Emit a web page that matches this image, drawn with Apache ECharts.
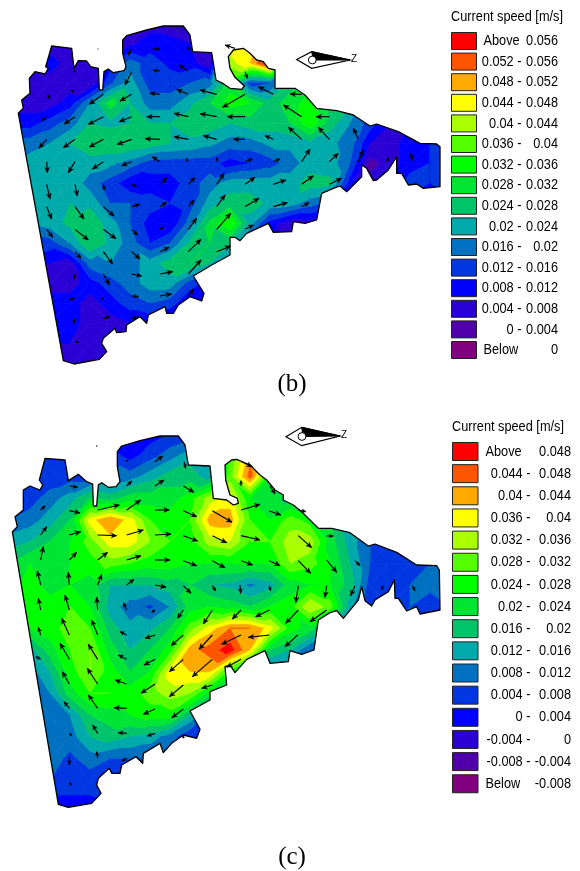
<!DOCTYPE html>
<html><head><meta charset="utf-8">
<style>html,body{margin:0;padding:0;background:#fff}#c{width:580px;height:871px}</style>
<script src="https://cdn.jsdelivr.net/npm/echarts@6/dist/echarts.min.js"></script></head>
<body><div id="c"></div>
<script>
// Map units: plan coordinates. Speeds in mm/s.
var meshX=[30,90,150,210,270,330,390,450,510,570,630,690,750,810,870,930,990,1050,1110,1170,1230,1290,1350];
var meshYB=[70,130,190,250,310,370,430,490,550,610,670,730,790,850,910,970,1030,1100];
var meshYC=[70,135,200,265,330,395,460,525,590,655,720,785,850,915,980,1045,1110,1200];
var speedB=[
[6,6,6,6,6,6,6,6,4,4,6,46,47,50,30,30,30,30,10,10,10,10,10],
[6,6,6,6,6,6,7,10,10,8,5,46,47,50,30,30,30,30,10,10,10,10,10],
[6,6,10,6,4,10,18,14,11,10,4,42,48,60,30,30,30,30,10,10,10,10,10],
[6,6,6,6,4,15,22,14,14,16,18,30,14,16,26,30,26,26,10,10,10,10,10],
[6,6,6,10,20,30,24,18,18,23,28,34,32,26,30,34,28,25,10,10,10,10,10],
[10,10,14,18,24,23,24,24,24,26,26,24,26,26,28,35,26,20,14,8,8,10,10],
[18,18,20,24,27,27,27,26,24,23,21,18,18,21,21,23,21,18,8,6,10,12,12],
[20,22,23,23,22,21,18,14,14,14,14,10,12,14,18,22,22,16,2,6,10,12,14],
[22,22,23,23,18,14,9,10,10,14,18,22,22,22,22,26,25,10,6,8,14,12,14],
[22,22,23,24,23,16,16,14,12,14,22,26,26,23,22,18,14,6,6,6,10,10,10],
[20,20,22,25,27,22,16,10,8,18,29,36,22,10,5,6,6,6,6,6,6,6,6],
[12,12,14,20,28,23,18,12,16,25,28,24,14,8,6,6,6,6,6,6,6,6,6],
[10,10,8,6,18,20,18,22,26,28,24,16,8,6,6,6,6,6,6,6,6,6,6],
[6,6,6,6,10,14,18,22,22,14,10,8,6,6,6,6,6,6,6,6,6,6,6],
[10,10,10,10,6,10,14,16,14,8,6,6,6,6,6,6,6,6,6,6,6,6,6],
[10,10,10,10,6,6,8,8,6,4,6,6,6,6,6,6,6,6,6,6,6,6,6],
[8,8,8,8,6,6,6,6,6,6,6,6,6,6,6,6,6,6,6,6,6,6,6],
[6,6,6,6,3,6,6,6,6,6,6,6,6,6,6,6,6,6,6,6,6,6,6]];
var speedC=[
[2,2,2,2,2,2,2,2,4,6,8,28,40,30,22,22,22,22,10,10,10,10,10],
[5,5,5,5,5,6,2,6,10,14,14,28,42,30,22,22,22,22,10,10,10,10,10],
[5,5,5,6,6,8,10,14,18,18,14,30,46,24,22,22,22,22,10,10,10,10,10],
[6,6,10,14,20,18,22,22,22,26,34,38,24,22,18,18,18,18,10,10,10,10,10],
[8,10,14,20,38,44,38,28,26,28,42,42,28,24,30,26,20,14,10,8,8,8,8],
[14,16,20,24,30,38,38,32,28,26,34,36,28,28,34,34,22,14,8,6,6,8,8],
[20,24,22,24,26,30,28,26,26,24,24,24,24,24,32,30,24,16,8,6,6,8,8],
[22,26,22,24,22,16,16,16,18,20,16,15,11,14,22,24,24,18,6,5,8,9,9],
[24,24,26,28,24,14,10,7,12,22,24,22,20,24,26,36,30,14,6,6,8,6,8],
[24,24,26,30,28,18,13,15,20,30,38,44,44,38,26,22,14,8,8,8,8,8,8],
[14,14,22,28,32,22,16,20,26,42,46,50,40,20,16,8,8,8,8,8,8,8,8],
[10,10,16,26,32,26,20,24,38,40,40,26,16,8,8,8,8,8,8,8,8,8,8],
[10,10,12,22,28,28,26,30,34,32,22,12,8,8,8,8,8,8,8,8,8,8,8],
[10,10,10,12,20,22,24,26,26,16,6,6,6,6,6,6,6,6,6,6,6,6,6],
[10,10,10,10,16,18,16,14,10,4,4,4,4,4,4,4,4,4,4,4,4,4,4],
[10,10,10,7,10,8,8,8,8,8,8,8,8,8,8,8,8,8,8,8,8,8,8],
[8,8,8,6,6,6,6,6,6,6,6,6,6,6,6,6,6,6,6,6,6,6,6],
[2,2,2,2,2,3,4,4,4,4,4,4,4,4,4,4,4,4,4,4,4,4,4]];
var shoreB=[[55,340],[70,325],[65,300],[90,280],[88,235],[105,215],[135,222],[145,205],[137,200],[155,138],[215,145],[222,205],[235,182],[260,183],[272,200],[295,205],[298,270],[308,270],[312,215],[325,207],[340,218],[372,212],[378,200],[368,160],[368,120],[380,107],[440,90],[490,78],[550,78],[570,105],[578,155],[635,158],[648,240],[668,250],[690,265],[725,268],[733,258],[705,232],[690,205],[685,170],[700,150],[730,145],[750,160],[770,180],[790,185],[805,205],[825,210],[825,265],[885,265],[915,285],[950,325],[1010,332],[1060,345],[1110,378],[1130,372],[1195,395],[1260,430],[1310,432],[1320,440],[1320,560],[1270,565],[1250,552],[1225,555],[1205,520],[1190,520],[1190,470],[1165,510],[1130,540],[1120,542],[1100,505],[1085,495],[1085,530],[1040,575],[1020,558],[1000,565],[965,580],[950,660],[915,670],[880,665],[875,695],[820,697],[805,670],[740,700],[720,722],[705,712],[690,712],[690,765],[635,795],[580,828],[612,880],[605,903],[570,890],[535,915],[520,940],[500,940],[495,920],[445,945],[440,970],[420,950],[380,975],[378,995],[350,998],[345,985],[310,1015],[305,1030],[320,1055],[298,1078],[222,1092],[190,1082]];
var shoreC=[[37,365],[52,350],[45,320],[70,300],[70,240],[90,228],[120,240],[128,225],[118,210],[135,145],[195,150],[205,212],[235,193],[260,215],[278,222],[280,288],[290,288],[295,225],[305,218],[325,232],[348,230],[360,215],[352,170],[352,125],[365,108],[420,92],[480,78],[535,78],[555,105],[565,165],[630,168],[640,265],[680,270],[700,285],[715,280],[712,265],[690,255],[677,210],[675,165],[695,150],[710,148],[750,165],[780,195],[800,210],[825,240],[850,255],[850,270],[880,285],[905,305],[955,355],[995,355],[1050,368],[1105,408],[1125,402],[1190,427],[1250,465],[1310,467],[1318,480],[1320,600],[1260,612],[1250,590],[1220,603],[1195,565],[1185,565],[1183,510],[1165,545],[1125,570],[1115,588],[1095,572],[1085,530],[1075,570],[1030,625],[1010,602],[990,608],[955,630],[942,720],[905,733],[870,722],[865,755],[810,760],[795,722],[740,748],[705,788],[690,765],[675,770],[680,825],[630,845],[630,870],[570,903],[600,958],[590,985],[550,975],[515,1000],[490,1028],[480,1000],[430,1030],[428,1060],[408,1040],[365,1065],[360,1090],[335,1090],[328,1075],[295,1105],[290,1125],[303,1150],[275,1180],[205,1192],[175,1183]];
// Current vectors: tail x, tail y, head x, head y
var vectorsB=[[393,148,385,165],[458,145,480,148],[570,148,562,142],[705,145,675,135],[735,215,742,235],
[395,215,375,255],[480,213,460,211],[563,213,537,195],[220,212,228,216],
[310,283,268,313],[395,283,360,303],[480,283,450,280],[563,282,530,268],[650,283,600,270],[735,283,668,322],[820,283,775,260],[905,283,870,282],[142,283,150,296],[220,275,213,271],
[140,350,125,362],[225,350,192,372],[310,350,265,373],[395,350,358,365],[480,350,440,350],[565,350,522,340],[650,350,600,341],[735,350,682,350],[905,350,850,315],[988,350,948,350],
[140,418,117,445],[225,418,190,443],[310,418,268,441],[395,418,352,433],[480,418,435,416],[565,418,522,410],[650,418,610,407],[735,418,700,418],[820,418,795,407],[905,418,865,382],[988,418,955,382],[1075,418,1060,385],
[140,485,142,518],[225,485,205,518],[310,485,277,507],[395,485,365,497],[480,485,457,470],[562,485,560,475],[650,485,652,472],[735,485,757,477],[820,485,840,477],[905,485,930,447],[988,485,1015,460],[1075,485,1090,450],[1160,485,1165,472],[1240,485,1232,460],
[225,553,232,588],[140,553,150,597],[310,553,313,570],[395,553,410,560],[480,553,500,533],[565,553,585,533],[650,553,672,520],[735,553,765,532],[820,553,858,540],[905,553,940,527],[988,553,1025,535],
[140,620,155,657],[225,620,252,657],[310,620,342,648],[395,620,420,613],[480,620,500,607],[565,620,582,600],[650,620,675,585],[735,620,777,595],[820,620,862,608],[905,620,927,608],
[140,688,158,712],[225,688,265,720],[310,688,348,716],[395,688,412,705],[480,688,490,682],[565,688,590,655],[650,688,692,640],[735,688,760,675],
[225,755,243,775],[310,755,338,792],[395,755,420,777],[480,755,507,742],[565,755,603,718],[650,755,692,738],
[225,822,222,838],[310,822,328,855],[395,822,425,828],[480,822,518,815],[565,822,603,780],
[225,893,208,900],[310,893,305,900],[395,888,415,890],[480,888,515,882],[565,888,580,868],
[225,955,220,972],[310,955,328,950],[395,955,410,950],[225,1025,235,1027]];
var vectorsC=[[380,153,384,150],[465,155,488,138],[552,155,557,175],[725,155,757,170],
[210,228,232,232],[380,228,395,213],[465,228,492,210],[550,228,582,247],[723,228,723,212],[810,228,825,252],
[122,300,135,288],[208,302,240,309],[293,300,358,285],[380,300,422,270],[465,300,508,300],[550,302,590,320],[637,302,696,337],[723,300,780,283],[808,303,843,315],[895,300,918,305],
[122,375,140,350],[208,375,242,365],[293,375,350,377],[380,375,430,360],[465,375,513,372],[550,377,593,393],[637,377,680,398],[723,377,780,390],[895,377,935,413],[980,378,1000,378],
[122,450,130,410],[208,450,230,427],[293,450,323,427],[380,450,423,437],[465,450,510,450],[550,452,590,467],[637,452,675,473],[723,452,758,465],[808,452,840,467],[895,452,932,490],[980,450,1010,487],[1065,452,1080,467],
[122,525,112,483],[208,525,205,487],[293,525,305,493],[380,525,402,508],[465,525,498,532],[550,527,573,550],[637,527,647,543],[720,525,722,550],[808,527,812,542],[895,527,887,578],[980,527,975,562],[1065,527,1052,557],[1150,527,1145,540],[1237,527,1245,542],
[122,600,115,565],[208,600,195,555],[293,600,290,562],[380,600,370,578],[465,600,455,607],[550,600,533,625],[637,600,610,642],[723,600,697,627],[808,600,767,620],[895,600,857,640],[980,600,930,635],
[122,675,115,652],[208,675,185,625],[293,675,275,630],[380,675,360,665],[465,675,435,685],[550,675,513,707],[637,675,597,718],[723,675,665,703],[808,675,745,682],[893,675,855,710],
[122,748,108,740],[208,748,180,700],[293,748,265,703],[380,748,355,735],[465,748,432,765],[550,748,508,785],[637,748,577,800],[723,748,680,772],
[208,822,187,785],[293,822,262,775],[380,822,345,810],[465,822,423,850],[550,825,508,860],[637,825,605,835],
[208,895,192,875],[293,895,265,855],[380,895,342,893],[465,897,430,913],[550,897,515,923],
[208,970,215,977],[293,970,278,945],[380,970,355,968],[465,970,442,978],[550,985,550,975],
[208,1040,208,1065],[293,1045,290,1025],[380,1045,367,1052],[215,1125,208,1118]];
var bandColors=['#800080','#5000aa','#2b00d5','#0000ff','#0037e0','#0070c0','#00aaaa','#00c46a','#00e533','#00ff00','#55ff00','#aaff00','#ffff00','#ffaa00','#ff5500','#ff0000'];
var legendTitle='Current speed [m/s]';
var legendB=[['Above','0.056'],['0.052 -','0.056'],['0.048 -','0.052'],['0.044 -','0.048'],['0.04 -','0.044'],['0.036 -','0.04'],['0.032 -','0.036'],['0.028 -','0.032'],['0.024 -','0.028'],['0.02 -','0.024'],['0.016 -','0.02'],['0.012 -','0.016'],['0.008 -','0.012'],['0.004 -','0.008'],['0 -','0.004'],['Below','0']];
var legendC=[['Above','0.048'],['0.044 -','0.048'],['0.04 -','0.044'],['0.036 -','0.04'],['0.032 -','0.036'],['0.028 -','0.032'],['0.024 -','0.028'],['0.02 -','0.024'],['0.016 -','0.02'],['0.012 -','0.016'],['0.008 -','0.012'],['0.004 -','0.008'],['0 -','0.004'],['-0.004 -','0'],['-0.008 -','-0.004'],['Below','-0.008']];

function clipAbove(poly,lv,sign){
  var out=[];
  for(var i=0;i<poly.length;i++){
    var a=poly[i],b=poly[(i+1)%poly.length],da=sign*(a[2]-lv),db=sign*(b[2]-lv);
    if(da>=0)out.push(a);
    if((da>=0)!==(db>=0)){var t=da/(da-db);out.push([a[0]+t*(b[0]-a[0]),a[1]+t*(b[1]-a[1]),lv]);}
  }
  return out;
}
function contourBands(xs,ys,vals,base){
  var res=[];
  function tri(p){
    for(var k=0;k<bandColors.length;k++){
      var lo=base+4*(k-1),hi=lo+4,q=p;
      if(k>0)q=clipAbove(q,lo,1);
      if(q.length&&k<bandColors.length-1)q=clipAbove(q,hi,-1);
      if(q.length>2)res.push({k:k,pts:q});
    }
  }
  for(var r=0;r<ys.length-1;r++)for(var c=0;c<xs.length-1;c++){
    var A=[xs[c],ys[r],vals[r][c]],B=[xs[c+1],ys[r],vals[r][c+1]],C=[xs[c+1],ys[r+1],vals[r+1][c+1]],D=[xs[c],ys[r+1],vals[r+1][c]];
    if(Math.abs(A[2]-C[2])<Math.abs(B[2]-D[2])){tri([A,B,C]);tri([A,C,D]);}else{tri([A,B,D]);tri([B,C,D]);}
  }
  return res;
}
function fieldSeries(idx,bands,shore){
  return {type:'custom',coordinateSystem:'cartesian2d',xAxisIndex:idx,yAxisIndex:idx,silent:true,z:1,clip:false,
    data:[[0,0]],
    renderItem:function(p,api){
      var kids=bands.map(function(b){
        var col=bandColors[b.k];
        return {type:'polygon',shape:{points:b.pts.map(function(q){return api.coord([q[0],q[1]]);})},
          style:{fill:col,stroke:col,lineWidth:0.7}};
      });
      return {type:'group',children:kids,clipPath:{type:'polygon',shape:{points:shore.map(function(q){return api.coord(q);})}}};
    }};
}
function shoreSeries(idx,shore){
  return {type:'custom',coordinateSystem:'cartesian2d',xAxisIndex:idx,yAxisIndex:idx,silent:true,z:2,clip:false,data:[[0,0]],
    renderItem:function(p,api){
      return {type:'polygon',shape:{points:shore.map(function(q){return api.coord(q);})},style:{fill:null,stroke:'#000',lineWidth:1.3,lineJoin:'round'}};
    }};
}
function vectorSeries(idx,vec){
  return {type:'custom',coordinateSystem:'cartesian2d',xAxisIndex:idx,yAxisIndex:idx,silent:true,z:3,clip:false,data:vec,
    encode:{x:[0,2],y:[1,3]},
    renderItem:function(p,api){
      var a=api.coord([api.value(0),api.value(1)]),b=api.coord([api.value(2),api.value(3)]);
      var dx=b[0]-a[0],dy=b[1]-a[1],L=Math.sqrt(dx*dx+dy*dy)||1,ux=dx/L,uy=dy/L,h=Math.min(5.5,1.5+L*0.35),w=h*0.45;
      var s={stroke:'#000',lineWidth:1.15,fill:null};
      return {type:'group',children:[
        {type:'line',shape:{x1:a[0],y1:a[1],x2:b[0],y2:b[1]},style:s},
        {type:'polygon',shape:{points:[[b[0]-ux*h-uy*w,b[1]-uy*h+ux*w],[b[0],b[1]],[b[0]-ux*h+uy*w,b[1]-uy*h-ux*w],[b[0]-ux*h*0.7,b[1]-uy*h*0.7]]},style:{fill:'#000',stroke:'#000',lineWidth:0.4}}
      ]};
    }};
}
var SANS='"Liberation Sans",Arial,sans-serif',SERIF='"Liberation Serif",serif';
function legendGraphics(rows,o){
  var g=[{type:'text',x:o.x,y:o.titleY,scaleX:0.85,style:{text:legendTitle,font:'15px '+SANS,fill:'#000',verticalAlign:'middle'}}];
  rows.forEach(function(r,i){
    var y=o.y0+i*o.step,isWord=(r[0]==='Above'||r[0]==='Below');
    g.push({type:'rect',shape:{x:o.x+0.5,y:y+0.5,width:o.sw,height:o.sh},style:{fill:bandColors[bandColors.length-1-i],stroke:'#222',lineWidth:1}});
    g.push({type:'text',x:isWord?o.wordX:o.midX,y:y+o.sh/2+0.5,scaleX:0.85,style:{text:r[0],font:'15px '+SANS,fill:'#000',align:isWord?'left':'right',verticalAlign:'middle'}});
    g.push({type:'text',x:o.endX,y:y+o.sh/2+0.5,scaleX:0.85,style:{text:r[1],font:'15px '+SANS,fill:'#000',align:'right',verticalAlign:'middle'}});
  });
  return g;
}
function compass(l,t,r,b,c){
  return [
    {type:'polygon',shape:{points:[l,t,r,b]},style:{fill:'#fff',stroke:'#000',lineWidth:1.2}},
    {type:'polygon',shape:{points:[t,r,[c[0]+1,c[1]]]},style:{fill:'#000',stroke:'#000',lineWidth:1}},
    {type:'circle',shape:{cx:c[0],cy:c[1],r:3.9},style:{fill:'#fff',stroke:'#000',lineWidth:1}},
    {type:'text',x:r[0]+1,y:r[1]-0.5,style:{text:'Z',font:'10px "Liberation Sans"',fill:'#000',verticalAlign:'middle'}}
  ];
}
var graphics=[].concat(
  legendGraphics(legendB,{x:451,titleY:17,y0:32,step:20.6,sw:25,sh:17,wordX:483.5,midX:521.5,endX:558}),
  legendGraphics(legendC,{x:452,titleY:427,y0:442,step:22.15,sw:25.5,sh:18,wordX:485.5,midX:530.5,endX:571}),
  compass([296.7,59.5],[311.7,51.7],[350,60],[311.7,68.3],[312.3,60]),
  compass([286,436.7],[301.7,427.3],[340,436],[301.7,445.7],[302,436.5]),
  [{type:'text',x:292,y:384,style:{text:'(b)',font:'25px '+SERIF,fill:'#000',align:'center',verticalAlign:'middle'}},
   {type:'text',x:292,y:857,style:{text:'(c)',font:'25px '+SERIF,fill:'#000',align:'center',verticalAlign:'middle'}},
   {type:'rect',shape:{x:97.5,y:48.5,width:1,height:1},style:{fill:'#000'}},
   {type:'rect',shape:{x:96,y:445.5,width:1.5,height:1},style:{fill:'#000'}}]);
var bandsB=contourBands(meshX,meshYB,speedB,0),bandsC=contourBands(meshX,meshYC,speedC,-8);
var chart=echarts.init(document.getElementById('c'),null,{renderer:'canvas',width:580,height:871});
function ax(max,inv){return {type:'value',min:0,max:max,inverse:!!inv,show:false,axisLine:{show:false},splitLine:{show:false}};}
chart.setOption({animation:false,backgroundColor:'#fff',tooltip:{show:false},
  grid:[{left:0,top:0,width:440,height:400},{left:0,top:410,width:440,height:461}],
  xAxis:[Object.assign(ax(1320),{gridIndex:0}),Object.assign(ax(1320),{gridIndex:1})],
  yAxis:[Object.assign(ax(1200,true),{gridIndex:0}),Object.assign(ax(1383,true),{gridIndex:1})],
  graphic:{elements:graphics},
  series:[fieldSeries(0,bandsB,shoreB),shoreSeries(0,shoreB),vectorSeries(0,vectorsB),
          fieldSeries(1,bandsC,shoreC),shoreSeries(1,shoreC),vectorSeries(1,vectorsC)]});
</script></body></html>
